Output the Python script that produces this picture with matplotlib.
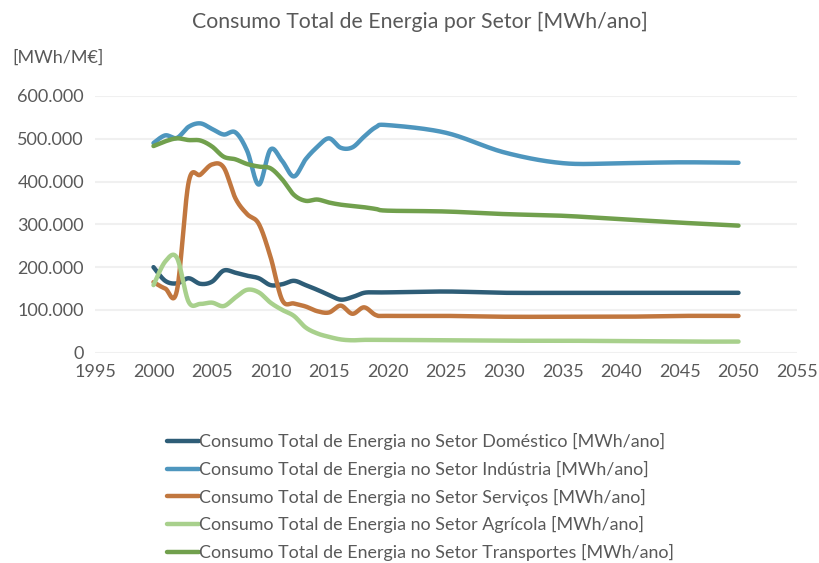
import numpy as np
import matplotlib
matplotlib.use("Agg")
import matplotlib.pyplot as plt
from matplotlib.ticker import FuncFormatter

plt.rcParams['font.family'] = ['Lato', 'DejaVu Sans']

anos = [2000, 2001, 2002, 2003, 2004, 2005, 2006, 2007, 2008, 2009, 2010,
        2011, 2012, 2013, 2014, 2015, 2016, 2017, 2018, 2019, 2020,
        2025, 2030, 2035, 2040, 2045, 2050]

domestico = [200, 168, 162, 174, 161, 166, 192, 187, 180, 174, 158,
             160, 168, 158, 147, 135, 124, 130, 140, 141, 141,
             143, 140, 140, 140, 140, 140]
industria = [490, 508, 502, 528, 536, 523, 510, 515, 472, 393, 475,
             448, 412, 452, 481, 501, 479, 480, 505, 527, 532,
             514, 468, 443, 443, 445, 444]
servicos = [165, 150, 145, 398, 416, 440, 433, 361, 324, 301, 224,
            123, 115, 108, 97, 94, 110, 91, 106, 88, 86,
            86, 84, 84, 84, 86, 86]
agricola = [158, 213, 222, 119, 114, 117, 109, 129, 147, 141, 117,
            100, 86, 59, 45, 37, 31, 29, 30, 30, 30,
            29, 28, 28, 27, 26, 26]
transportes = [483, 494, 501, 497, 496, 482, 458, 452, 441, 435, 431,
               405, 369, 355, 358, 351, 346, 343, 340, 336, 332,
               330, 324, 320, 312, 304, 297]

series = [
    ("Consumo Total de Energia no Setor Doméstico [MWh/ano]", domestico, "#2e5d77"),
    ("Consumo Total de Energia no Setor Indústria [MWh/ano]", industria, "#4e96be"),
    ("Consumo Total de Energia no Setor Serviços [MWh/ano]", servicos, "#c1773f"),
    ("Consumo Total de Energia no Setor Agrícola [MWh/ano]", agricola, "#a8d08c"),
    ("Consumo Total de Energia no Setor Transportes [MWh/ano]", transportes, "#71a04d"),
]


def suavizar(x, y, n=30):
    # curva suave tipo Excel (Bezier com tangentes dos vizinhos)
    x = np.asarray(x, float)
    y = np.asarray(y, float)
    px, py = [], []
    for i in range(len(x) - 1):
        i0 = max(i - 1, 0)
        i3 = min(i + 2, len(x) - 1)
        c1x = x[i] + (x[i + 1] - x[i0]) / 6
        c1y = y[i] + (y[i + 1] - y[i0]) / 6
        c2x = x[i + 1] - (x[i3] - x[i]) / 6
        c2y = y[i + 1] - (y[i3] - y[i]) / 6
        t = np.linspace(0, 1, n)
        a, b, c, d = (1 - t) ** 3, 3 * t * (1 - t) ** 2, 3 * t ** 2 * (1 - t), t ** 3
        px.extend(a * x[i] + b * c1x + c * c2x + d * x[i + 1])
        py.extend(a * y[i] + b * c1y + c * c2y + d * y[i + 1])
    return np.array(px), np.array(py)


fig = plt.figure(figsize=(8.2, 5.63), dpi=100)
ax = fig.add_axes([95 / 820, 1 - 352.7 / 563, 702 / 820, 256.7 / 563])

for nome, vals, cor in series:
    sx, sy = suavizar(anos, np.array(vals) * 1000)
    ax.plot(sx, sy, color=cor, lw=3.2, label=nome, solid_capstyle='round',
            solid_joinstyle='round')

ax.set_xlim(1995, 2055)
ax.set_ylim(0, 600000)
ax.set_xticks(range(1995, 2056, 5))
ax.set_yticks(range(0, 600001, 100000))
ax.yaxis.set_major_formatter(FuncFormatter(lambda v, p: f"{int(v):,}".replace(",", ".")))
for s in ax.spines.values():
    s.set_visible(False)
ax.grid(axis='y', color='#f0f0f0', lw=1.5)
ax.set_axisbelow(True)
ax.tick_params(length=0, labelsize=13, colors='#595959', pad=8)

fig.text(420 / 820, 1 - 22 / 563, "Consumo Total de Energia por Setor [MWh/ano]",
         ha='center', va='center', fontsize=15.3, color='#595959')
fig.text(12 / 820, 1 - 58 / 563, "[MWh/M€]", ha='left', va='center',
         fontsize=13, color='#595959')

fig.legend(loc='upper left', bbox_to_anchor=(160 / 820, 1 - 426 / 563),
           frameon=False, fontsize=12.9, labelcolor='#595959', handlelength=1.8,
           handletextpad=0.0, labelspacing=0.6, borderaxespad=0)

fig.savefig("out.png", dpi=100)
